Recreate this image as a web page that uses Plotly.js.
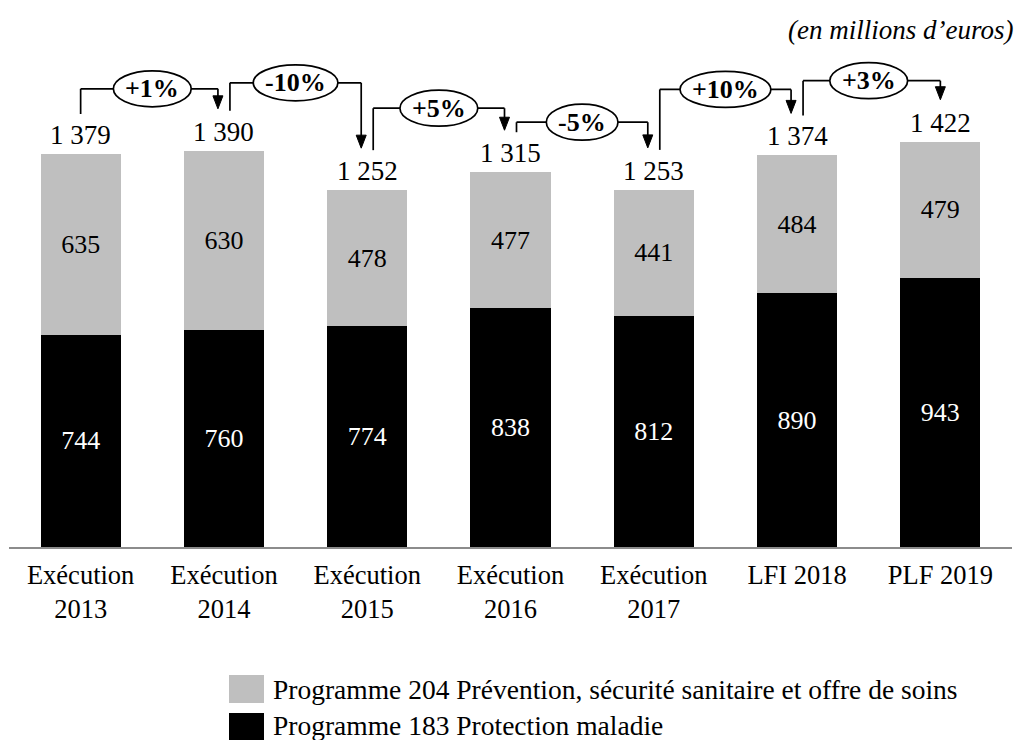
<!DOCTYPE html>
<html>
<head>
<meta charset="utf-8">
<script src="https://cdn.plot.ly/plotly-3.0.1.min.js"></script>
<style>
  html, body { margin: 0; padding: 0; background: #fff; }
  #chart { width: 1021px; height: 740px; }
</style>
</head>
<body>
<div id="chart"></div>
<script>
// Crédits de la mission Santé, en millions d'euros
const categories = ['Exécution<br>2013', 'Exécution<br>2014', 'Exécution<br>2015',
                    'Exécution<br>2016', 'Exécution<br>2017', 'LFI 2018', 'PLF 2019'];
const prog183 = [744, 760, 774, 838, 812, 890, 943];   // Protection maladie
const prog204 = [635, 630, 478, 477, 441, 484, 479];   // Prévention, sécurité sanitaire et offre de soins
const seriesNames = ['Programme 204 Prévention, sécurité sanitaire et offre de soins',
                     'Programme 183 Protection maladie'];
const changeLabels = ['+1%', '-10%', '+5%', '-5%', '+10%', '+3%'];

const totals = prog183.map((v, i) => v + prog204[i]);
const xs = categories.map((_, i) => i);

// geometry of the plotting area (pixels)
const W = 1021, H = 740;
const M = { l: 9, r: 9, t: 30, b: 193 };
const plotW = W - M.l - M.r, plotH = H - M.t - M.b;
const yMax = 1814;
const unitsPerPx = yMax / plotH;
const xUnitsPerPx = 7 / plotW;

const FONT = '"Liberation Serif"';
const GREY = '#BFBFBF';

const fmt = v => String(v).replace(/\B(?=(\d{3})+(?!\d))/g, ' ');

const traces = [
  {
    type: 'bar', x: xs, y: prog183, name: seriesNames[1],
    marker: { color: '#000000', line: { width: 0 } },
    text: prog183.map(String), textposition: 'inside', insidetextanchor: 'middle',
    textfont: { family: FONT, size: 26, color: '#ffffff' }, textangle: 0,
    constraintext: 'none', showlegend: false, hoverinfo: 'y+name'
  },
  {
    type: 'bar', x: xs, y: prog204, name: seriesNames[0],
    marker: { color: GREY, line: { width: 0 } },
    text: prog204.map(String), textposition: 'inside', insidetextanchor: 'middle',
    textfont: { family: FONT, size: 26, color: '#000000' }, textangle: 0,
    constraintext: 'none', showlegend: false, hoverinfo: 'y+name'
  }
];

const annotations = [];
const shapes = [];

// totals above each stack
totals.forEach((t, i) => {
  annotations.push({
    x: i, y: t, xref: 'x', yref: 'y', text: fmt(t), showarrow: false,
    yanchor: 'bottom', yshift: 2, font: { family: FONT, size: 27, color: '#000' }
  });
});

// evolution connectors between consecutive stacks
const liftPx = [62, 68, 64, 50, 66, 61];
const startGap = 40, tipGap = 42, sideOff = 6;
const measure = (() => {
  const c = document.createElement('canvas').getContext('2d');
  c.font = 'bold 26px "Liberation Serif"';
  return s => c.measureText(s).width;
})();

changeLabels.forEach((lab, i) => {
  const j = i + 1;
  const xa = i + (i === 0 ? 0 : sideOff * xUnitsPerPx);
  const xb = j - (j === totals.length - 1 ? 0 : sideOff * xUnitsPerPx);
  const level = Math.max(totals[i], totals[j]) + liftPx[i] * unitsPerPx;
  const yStart = totals[i] + startGap * unitsPerPx;
  const yTip = totals[j] + tipGap * unitsPerPx;
  const line = { color: '#000', width: 1.7 };
  shapes.push({ type: 'line', xref: 'x', yref: 'y', x0: xa, x1: xa, y0: yStart, y1: level, line });
  shapes.push({ type: 'line', xref: 'x', yref: 'y', x0: xa, x1: xb, y0: level, y1: level, line });
  shapes.push({ type: 'line', xref: 'x', yref: 'y', x0: xb, x1: xb, y0: level, y1: yTip + 10 * unitsPerPx, line });
  shapes.push({
    type: 'path', xref: 'x', yref: 'y', xsizemode: 'pixel', ysizemode: 'pixel',
    xanchor: xb, yanchor: yTip, path: 'M-5,13 L5,13 L0,0 Z',
    fillcolor: '#000', line: { color: '#000', width: 1 }
  });
  const half = (measure(lab) + 24) / 2;
  shapes.push({
    type: 'circle', xref: 'x', yref: 'y', xsizemode: 'pixel', ysizemode: 'pixel',
    xanchor: (i + j) / 2, yanchor: level, x0: -half, x1: half, y0: -18, y1: 18,
    fillcolor: '#fff', line: { color: '#000', width: 1.7 }
  });
  annotations.push({
    x: (i + j) / 2, y: level, xref: 'x', yref: 'y', text: '<b>' + lab + '</b>',
    showarrow: false, font: { family: FONT, size: 26, color: '#000' }
  });
});

// unit note
annotations.push({
  xref: 'paper', yref: 'paper', x: (1015 - M.l) / plotW, y: 1, xanchor: 'right', yanchor: 'middle',
  text: '<i>(en millions d’euros)</i>', showarrow: false,
  font: { family: FONT, size: 27, color: '#000' }
});

// legend drawn below the axis
const px2x = px => (px - M.l) / plotW;
const px2y = py => (H - M.b - py) / plotH;
const legendRows = [
  { name: seriesNames[0], color: GREY, top: 675, bottom: 703, mid: 689 },
  { name: seriesNames[1], color: '#000', top: 713, bottom: 741, mid: 725 }
];
legendRows.forEach(r => {
  shapes.push({
    type: 'rect', xref: 'paper', yref: 'paper',
    x0: px2x(229), x1: px2x(264), y0: px2y(r.bottom), y1: px2y(r.top),
    fillcolor: r.color, line: { width: 0 }
  });
  annotations.push({
    xref: 'paper', yref: 'paper', x: px2x(271), y: px2y(r.mid), xanchor: 'left', yanchor: 'middle',
    text: r.name, showarrow: false, font: { family: FONT, size: 27.5, color: '#000' }
  });
});

const layout = {
  width: W, height: H,
  margin: M,
  paper_bgcolor: '#fff', plot_bgcolor: '#fff',
  barmode: 'stack', bargap: 0.44,
  showlegend: false,
  font: { family: FONT, size: 26, color: '#000' },
  xaxis: {
    type: 'linear', range: [-0.5, 6.5], tickvals: xs, ticktext: categories,
    showgrid: false, zeroline: false, showline: true, linecolor: '#8C8C8C', linewidth: 2,
    ticks: '', ticklabelstandoff: 3, tickfont: { family: FONT, size: 26.5, color: '#000' }, fixedrange: true
  },
  yaxis: {
    range: [0, yMax], visible: false, showgrid: false, zeroline: false, fixedrange: true
  },
  shapes, annotations
};

Plotly.newPlot('chart', traces, layout, { displayModeBar: false, staticPlot: true });
</script>
</body>
</html>
